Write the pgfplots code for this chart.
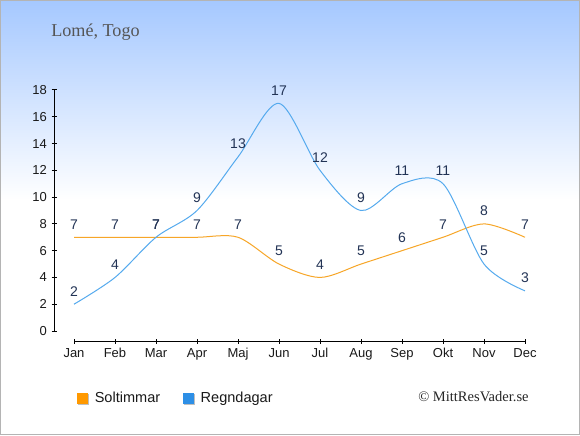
\documentclass[border=0pt]{standalone}
\usepackage{pgfplots}
\pgfplotsset{compat=1.18}
\usepackage{fontspec}
\setmainfont{Liberation Sans}
\newfontfamily\seriffont{Liberation Serif}
\definecolor{sunorange}{RGB}{255,153,0}
\definecolor{sunline}{RGB}{247,166,40}
\definecolor{rainblue}{RGB}{45,143,230}
\definecolor{rainline}{RGB}{85,170,238}
\definecolor{labelcol}{RGB}{34,51,85}
\definecolor{bgtop}{RGB}{165,200,255}
\definecolor{bordercol}{RGB}{180,180,180}
\definecolor{titlecol}{RGB}{85,85,85}
\begin{document}
\begin{tikzpicture}
\useasboundingbox (0,0) rectangle (435pt,326.25pt);
\fill[white] (0,0) rectangle (435pt,326.25pt);
\shade[top color=bgtop, bottom color=white] (0,176.25pt) rectangle (435pt,326.25pt);
\draw[bordercol, line width=0.75pt] (0.375pt,0.375pt) rectangle (434.625pt,325.875pt);
\node[anchor=west, font=\seriffont\fontsize{13.6}{15}\selectfont, text=titlecol, inner sep=0pt] at (38.25pt,302.25pt) {Lomé, Togo};
\node[anchor=west, font=\seriffont\fontsize{10.9}{12}\selectfont, text=black!85, inner sep=0pt] at (313.5pt,28.5pt) {© MittResVader.se};
\begin{axis}[
  at={(40.5pt,70.5pt)}, anchor=south west,
  width=353.25pt, height=188.25pt, scale only axis,
  xmin=-0.4878, xmax=11, ymin=-0.7469, ymax=18,
  axis line style={draw=none},
  xtick={0,...,11},
  xticklabels={Jan,Feb,Mar,Apr,Maj,Jun,Jul,Aug,Sep,Okt,Nov,Dec},
  ytick={0,2,...,18},
  tick pos=left, tick align=center, major tick length=3.75pt,
  tick style={black, line width=0.75pt},
  ticklabel style={font=\fontsize{9.75}{11}\selectfont, text=black!90},
  /pgf/number format/assume math mode=true,
  clip=false,
  legend columns=2,
  legend style={at={(0.0488,-0.227)}, anchor=west, draw=none, fill=none, inner sep=0pt,
    nodes={inner sep=0pt, font=\fontsize{10.9}{13}\selectfont, text=black!90}},
  legend cell align=left,
  every node near coord/.append style={anchor=center, yshift=9.75pt,
    font=\fontsize{10.5}{12}\selectfont, text=labelcol},
]
\addlegendimage{legend image code/.code={
  \fill[black!25] (0.75pt,-4.5pt) rectangle (8.25pt,3pt);
  \fill[sunorange] (0pt,-3.75pt) rectangle (7.5pt,3.75pt);
  \path (12.75pt,0);}}
\addlegendentry{Soltimmar}
\addlegendimage{legend image code/.code={
  \path (-17.25pt,0);
  \fill[black!25] (0.75pt,-4.5pt) rectangle (8.25pt,3pt);
  \fill[rainblue] (0pt,-3.75pt) rectangle (7.5pt,3.75pt);
  \path (12.75pt,0);}}
\addlegendentry{Regndagar}
\draw[black, line width=0.75pt] (axis cs:-0.4878,0) -- (axis cs:-0.4878,18);
\draw[black, line width=0.75pt] (axis cs:0,-0.7469) -- (axis cs:11,-0.7469);
\addplot[forget plot, sunline, line width=0.75pt, smooth, no marks, nodes near coords]
  coordinates {(0,7) (1,7) (2,7) (3,7) (4,7) (5,5) (6,4) (7,5) (8,6) (9,7) (10,8) (11,7)};
\addplot[forget plot, rainline, line width=0.75pt, smooth, no marks, nodes near coords]
  coordinates {(0,2) (1,4) (2,7) (3,9) (4,13) (5,17) (6,12) (7,9) (8,11) (9,11) (10,5) (11,3)};
\end{axis}
\end{tikzpicture}
\end{document}
